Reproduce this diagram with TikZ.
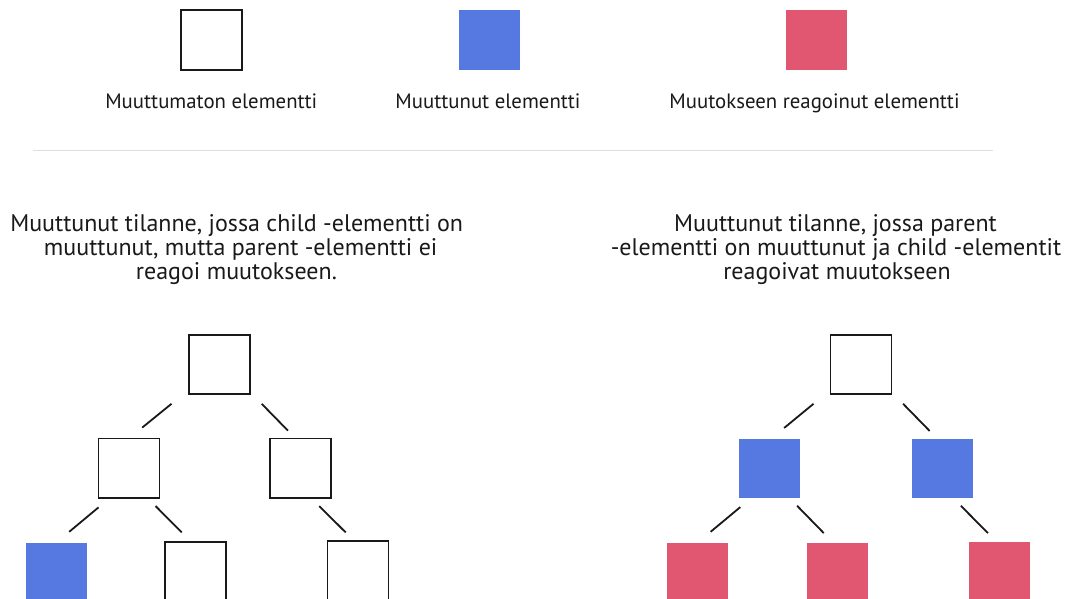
\documentclass[tikz,border=0pt]{standalone}
\usepackage{fontspec}
\setmainfont{PT Sans}
\definecolor{chgblue}{HTML}{5578E1}
\definecolor{reactpink}{HTML}{E15670}
\definecolor{sepgray}{HTML}{DEDEDE}
\begin{document}
\begin{tikzpicture}[x=1pt,y=-1pt,
  elem/.style={rectangle,inner sep=0pt,minimum width=61pt,minimum height=59.4pt},
  plain/.style={elem,draw=black!90,line width=1.8pt,fill=white},
  changed/.style={elem,fill=chgblue},
  reacted/.style={elem,fill=reactpink},
  legtext/.style={anchor=base,inner sep=0pt,font=\fontsize{20.8}{24}\selectfont,text=black!90},
  titletext/.style={anchor=base,inner sep=0pt,font=\fontsize{24}{24}\selectfont,text=black!90},
  link/.style={draw=black!90,line width=1.8pt}
]
\useasboundingbox[fill=white] (0,0) rectangle (1076,598);
% legend
\node[plain] (legplain) at (211.2,40) {};
\node[changed] (legchg) at (489.2,40) {};
\node[reacted] (legreact) at (816,40) {};
\node[legtext] (legplaintxt) at (211.3,108.7) {Muuttumaton elementti};
\node[legtext] (legchgtxt) at (488,108.7) {Muuttunut elementti};
\node[legtext] (legreacttxt) at (814.5,108.7) {Muutokseen reagoinut elementti};
% separator
\coordinate (sepa) at (33,150.7);
\coordinate (sepb) at (993,150.7);
\draw[sepgray,line width=1.5pt] (sepa) -- (sepb);
% titles
\node[titletext] (lt1) at (236.7,231) {Muuttunut tilanne, jossa child -elementti on};
\node[titletext] (lt2) at (240.7,255) {muuttunut, mutta parent -elementti ei};
\node[titletext] (lt3) at (236.4,279) {reagoi muutokseen.};
\node[titletext] (rt1) at (835.5,231) {Muuttunut tilanne, jossa parent};
\node[titletext] (rt2) at (836,255) {-elementti on muuttunut ja child -elementit};
\node[titletext] (rt3) at (837,279) {reagoivat muutokseen};
% left tree
\node[plain] (lroot) at (219.2,364.5) {};
\node[plain] (lml) at (129,468.2) {};
\node[plain] (lmr) at (300.8,468.2) {};
\node[changed] (lbl) at (56.3,572.4) {};
\node[plain] (lbm) at (195.6,572) {};
\node[plain] (lbr) at (358,571) {};
\draw[link] ([shift={(-47.7,8.7)}]lroot.south) -- ([shift={(13.2,-10)}]lml.north);
\draw[link] ([shift={(42.5,8.7)}]lroot.south) -- ([shift={(-12.9,-7)}]lmr.north);
\draw[link] ([shift={(-30.5,8.6)}]lml.south) -- ([shift={(12.9,-10.7)}]lbl.north);
\draw[link] ([shift={(26.6,7.3)}]lml.south) -- ([shift={(-13.8,-9)}]lbm.north);
\draw[link] ([shift={(18.4,7.3)}]lmr.south) -- ([shift={(-12.3,-8)}]lbr.north);
% right tree
\node[plain] (rroot) at (861,364.5) {};
\node[changed] (rml) at (769.5,468.2) {};
\node[changed] (rmr) at (942.4,468.2) {};
\node[reacted] (rbl) at (697.7,572.4) {};
\node[reacted] (rbm) at (837.2,572.4) {};
\node[reacted] (rbr) at (999.5,571.4) {};
\draw[link] ([shift={(-47.5,8.7)}]rroot.south) -- ([shift={(14.6,-10.3)}]rml.north);
\draw[link] ([shift={(42.1,8.7)}]rroot.south) -- ([shift={(-12.7,-7.3)}]rmr.north);
\draw[link] ([shift={(-29.2,9)}]rml.south) -- ([shift={(12.9,-10.7)}]rbl.north);
\draw[link] ([shift={(27.6,7.7)}]rml.south) -- ([shift={(-13.4,-9.4)}]rbm.north);
\draw[link] ([shift={(18.5,7.7)}]rmr.south) -- ([shift={(-11.6,-8.4)}]rbr.north);
\end{tikzpicture}
\end{document}
